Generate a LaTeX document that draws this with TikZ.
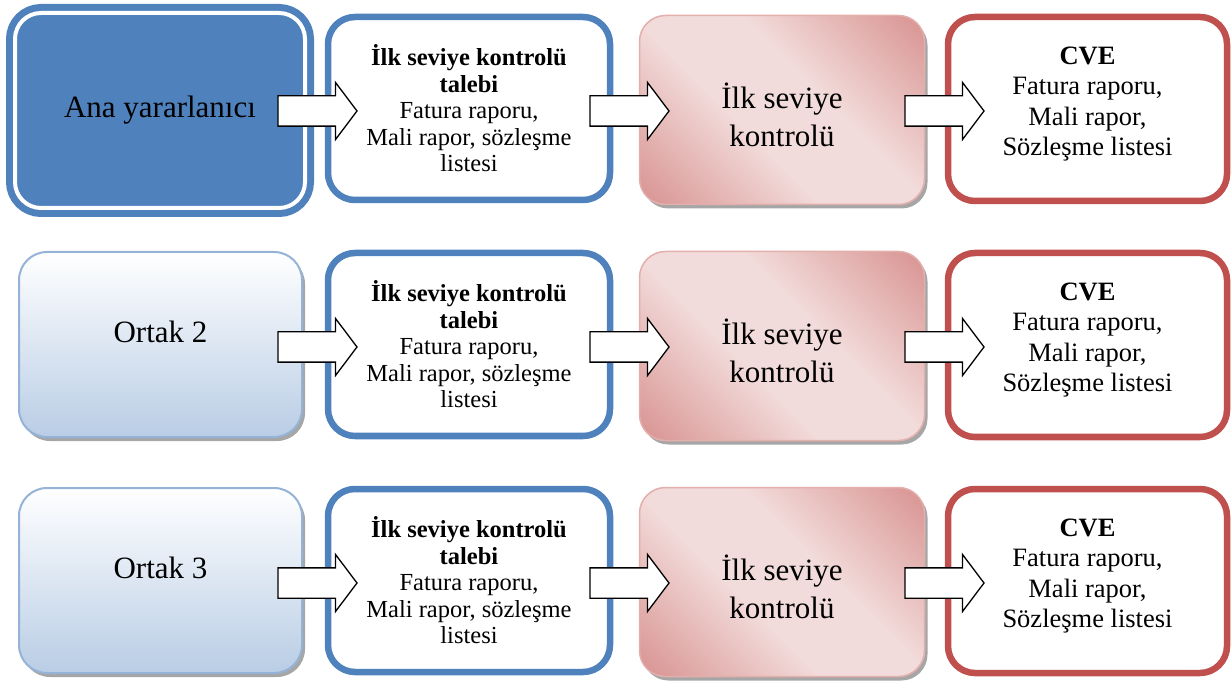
\documentclass[tikz,border=0pt]{standalone}
\usepackage{fontspec}
\setmainfont{Liberation Serif}
\usetikzlibrary{shapes.arrows,shadows}
\definecolor{flowBlue}{HTML}{4F81BD}
\definecolor{flowRed}{HTML}{C0504D}
\definecolor{flowPinkDark}{HTML}{D99694}
\definecolor{flowPinkLight}{HTML}{F2DCDB}
\definecolor{flowPinkLine}{HTML}{E3AFAD}
\definecolor{flowSky}{HTML}{B9CDE5}
\definecolor{flowSkyLine}{HTML}{95B3D7}
\pgfdeclarehorizontalshading{flowpink}{100bp}{color(0bp)=(flowPinkDark);
  color(16bp)=(flowPinkDark); color(42bp)=(flowPinkLight);
  color(58bp)=(flowPinkLight); color(84bp)=(flowPinkDark);
  color(100bp)=(flowPinkDark)}
\tikzset{
  flow diagram/.style={x=1pt, y=1pt,
    every node/.style={align=center, text=black, inner sep=0pt, outer sep=0pt}},
  flow big/.style={font=\fontsize{31}{38}\selectfont},
  flow mid/.style={font=\fontsize{26.5}{30.5}\selectfont},
  flow small/.style={font=\fontsize{24.5}{26.5}\selectfont},
  flow lead/.style={fill=flowBlue, draw=flowBlue, double=white,
    double distance=4pt, line width=7pt, rounded corners=26pt,
    minimum width=290pt, minimum height=195pt},
  flow partner/.style={top color=white, bottom color=flowSky,
    draw=flowSkyLine, line width=2pt, rounded corners=28pt,
    minimum width=283pt, minimum height=185pt,
    drop shadow={shadow xshift=3pt, shadow yshift=-4pt,
      fill=black, opacity=0.35}},
  flow request/.style={draw=flowBlue, fill=white, line width=6.5pt,
    rounded corners=27pt, minimum width=282pt, minimum height=183pt},
  flow check/.style={shade, shading=flowpink, shading angle=45,
    draw=flowPinkLine, line width=1.5pt, rounded corners=26pt,
    minimum width=285pt, minimum height=189pt,
    drop shadow={shadow xshift=3pt, shadow yshift=-4pt,
      fill=black, opacity=0.35}},
  flow output/.style={draw=flowRed, fill=white, line width=6.5pt,
    rounded corners=27pt, minimum width=279pt, minimum height=184pt},
  flow arrow/.style={single arrow, draw=black, fill=white, line width=1.3pt,
    inner xsep=0pt, inner ysep=14.5pt, minimum height=79pt,
    single arrow head extend=13.5pt, single arrow tip angle=106,
    single arrow head indent=0pt, anchor=tail}
}

\begin{document}
\begin{tikzpicture}[flow diagram]
  \useasboundingbox (0,0) rectangle (1231,686);
  % first column
  \node[flow lead, flow big] (lead) at (160,575.5) {Ana yararlanıcı};
  \node[flow partner] (partner2) at (160.5,341.5) {};
  \node[flow big] (partner2 text) at ([yshift=13pt]partner2.center) {Ortak 2};
  \node[flow partner] (partner3) at (160.5,105.5) {};
  \node[flow big] (partner3 text) at ([yshift=13pt]partner3.center) {Ortak 3};
  % the three rows
  \foreach \r/\y in {1/0,2/-236,3/-472}{
    \node[flow request, flow small] (req\r) at (469,577.5+\y)
      {\textbf{İlk seviye kontrolü}\\\textbf{talebi}\\Fatura raporu,\\
       Mali rapor, sözleşme\\listesi};
    \node[flow check] (chk\r) at (782,576+\y) {};
    \node[flow big] (chk\r text) at ([yshift=-5pt]chk\r.center)
      {İlk seviye\\kontrolü};
    \node[flow output] (out\r) at (1087.5,577+\y) {};
    \node[flow mid] (out\r text) at ([yshift=5pt]out\r.center)
      {\textbf{CVE}\\Fatura raporu,\\Mali rapor,\\Sözleşme listesi};
    \node[flow arrow] (arr\r a) at (278,575+\y) {};
    \node[flow arrow] (arr\r b) at (590,575+\y) {};
    \node[flow arrow] (arr\r c) at (905,575+\y) {};
  }
\end{tikzpicture}
\end{document}
